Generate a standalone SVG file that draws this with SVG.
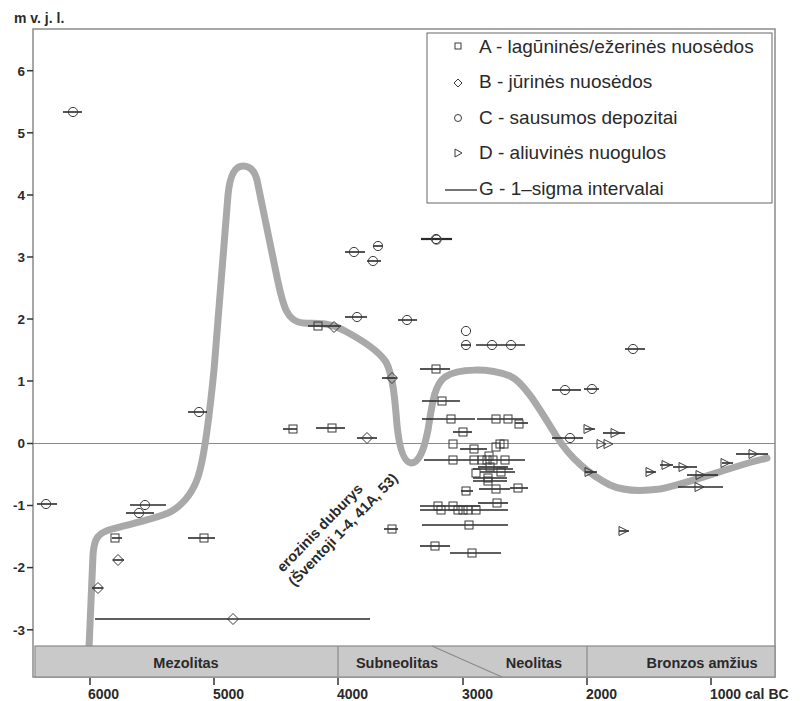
<svg xmlns="http://www.w3.org/2000/svg" xmlns:xlink="http://www.w3.org/1999/xlink" width="806" height="701" viewBox="0 0 806 701">
<style>
.frame{fill:#fff;stroke:#8a8a8a;stroke-width:1.5}
.zero{stroke:#8a8a8a;stroke-width:1.2}
.curve{fill:none;stroke:#a9a9a9;stroke-width:7;stroke-linecap:round;stroke-linejoin:round}
.bar{stroke:#2a2a2a;stroke-width:1.6}
.m{fill:none;stroke:#3a3a3a;stroke-width:1}
.band{fill:#c9c9c9;stroke:#8a8a8a;stroke-width:1.2}
.div{stroke:#8a8a8a;stroke-width:1.2}
.tick{stroke:#333;stroke-width:1.5}
.ax{font-family:"Liberation Sans",Arial,sans-serif;font-weight:bold;font-size:14px;fill:#2a2a2a}
.yl{font-family:"Liberation Sans",Arial,sans-serif;font-weight:bold;font-size:13.5px;fill:#2a2a2a;text-anchor:end}
.bt{font-family:"Liberation Sans",Arial,sans-serif;font-weight:bold;font-size:14.5px;fill:#2a2a2a;text-anchor:middle}
.lg{font-family:"Liberation Sans",Arial,sans-serif;font-size:19px;fill:#2a2a2a}
.rot{font-family:"Liberation Sans",Arial,sans-serif;font-weight:bold;font-size:14.5px;fill:#2a2a2a}
</style>
<defs>
<rect id="sq" x="-4" y="-4" width="8" height="8"/>
<circle id="ci" r="4.6"/>
<path id="di" d="M0,-5.5 L5.5,0 L0,5.5 L-5.5,0Z"/>
<path id="tr" d="M-4,-4.5 L5,0 L-4,4.5Z"/>
</defs>
<rect width="806" height="701" fill="#fff"/>
<g id="plot-frame">
<rect class="frame" x="33" y="29" width="742" height="648"/>
<line class="zero" x1="33" y1="443.5" x2="775" y2="443.5"/>
</g>
<g id="sea-level-curve">
<path class="curve" d="M89 648 L93 555 C94 538,98 533,112 529 C130 524,160 518,172 511 C185 503,195 490,200 470 C206 447,210 410,214 370 L228 195 C230 174,235 166,243 166 C251 166,256 172,258 185 L278 282 C283 305,287 322,303 323 C318 324,330 322,345 331 C360 339,378 350,386 362 C393 375,395 400,397 425 C399 445,403 462,411 463 C419 463,424 450,428 430 C432 405,434 385,445 377 C458 368,490 368,510 376 C525 383,540 410,557 437 C570 458,590 475,610 485 C625 492,645 491,660 489 C690 483,730 467,767 458"/>
</g>
<g id="connectors">
<!-- circles -->
<line class="bar" x1="63" y1="112" x2="82" y2="112"/>
<line class="bar" x1="37" y1="504" x2="57" y2="504"/>
<line class="bar" x1="130" y1="505" x2="166" y2="505"/>
<line class="bar" x1="126" y1="513" x2="154" y2="513"/>
<line class="bar" x1="188" y1="412" x2="207" y2="412"/>
<line class="bar" x1="345" y1="252" x2="365" y2="252"/>
<line class="bar" x1="374" y1="246" x2="382" y2="246"/>
<line class="bar" x1="367" y1="261" x2="381" y2="261"/>
<line class="bar" x1="421" y1="239" x2="452" y2="239" style="stroke-width:2.2"/>
<line class="bar" x1="345" y1="317" x2="367" y2="317"/>
<line class="bar" x1="398" y1="320" x2="417" y2="320"/>
<line class="bar" x1="461" y1="345" x2="471" y2="345"/>
<line class="bar" x1="476" y1="345" x2="525" y2="345"/>
<line class="bar" x1="625" y1="349" x2="645" y2="349"/>
<line class="bar" x1="552" y1="390" x2="581" y2="390"/>
<line class="bar" x1="584" y1="389" x2="599" y2="389"/>
<line class="bar" x1="552" y1="438" x2="583" y2="438"/>
<!-- squares -->
<line class="bar" x1="112" y1="538" x2="122" y2="538"/>
<line class="bar" x1="188" y1="538" x2="215" y2="538"/>
<line class="bar" x1="283" y1="429" x2="297" y2="429"/>
<line class="bar" x1="316" y1="428" x2="345" y2="428"/>
<line class="bar" x1="308" y1="326" x2="341" y2="326"/>
<line class="bar" x1="420" y1="369" x2="450" y2="369"/>
<line class="bar" x1="422" y1="401" x2="460" y2="401"/>
<line class="bar" x1="422" y1="419" x2="475" y2="419"/>
<line class="bar" x1="477" y1="419" x2="523" y2="419"/>
<line class="bar" x1="515" y1="423" x2="528" y2="423"/>
<line class="bar" x1="453" y1="432" x2="472" y2="432"/>
<line class="bar" x1="460" y1="449" x2="487" y2="449"/>
<line class="bar" x1="424" y1="460" x2="525" y2="460"/>
<line class="bar" x1="478" y1="467" x2="508" y2="467"/>
<line class="bar" x1="473" y1="469" x2="513" y2="469"/>
<line class="bar" x1="480" y1="472" x2="515" y2="472"/>
<line class="bar" x1="473" y1="478" x2="507" y2="478"/>
<line class="bar" x1="473" y1="481" x2="507" y2="481"/>
<line class="bar" x1="461" y1="491" x2="473" y2="491"/>
<line class="bar" x1="479" y1="489" x2="510" y2="489"/>
<line class="bar" x1="510" y1="488" x2="528" y2="488"/>
<line class="bar" x1="478" y1="503" x2="508" y2="503"/>
<line class="bar" x1="420" y1="506" x2="480" y2="506"/>
<line class="bar" x1="420" y1="510" x2="508" y2="510"/>
<line class="bar" x1="422" y1="525" x2="508" y2="525"/>
<line class="bar" x1="420" y1="546" x2="450" y2="546"/>
<line class="bar" x1="450" y1="553" x2="501" y2="553"/>
<line class="bar" x1="384" y1="529" x2="398" y2="529"/>
<!-- diamonds -->
<line class="bar" x1="382" y1="378" x2="397" y2="378"/>
<line class="bar" x1="357" y1="438" x2="377" y2="438"/>
<line class="bar" x1="113" y1="560" x2="124" y2="560"/>
<line class="bar" x1="92" y1="588" x2="103" y2="588"/>
<line class="bar" x1="95" y1="619" x2="370" y2="619"/>
<!-- triangles -->
<line class="bar" x1="585" y1="429" x2="595" y2="429"/>
<line class="bar" x1="603" y1="433" x2="625" y2="433"/>
<line class="bar" x1="585" y1="472" x2="597" y2="472"/>
<line class="bar" x1="646" y1="472" x2="656" y2="472"/>
<line class="bar" x1="660" y1="465" x2="673" y2="465"/>
<line class="bar" x1="673" y1="467" x2="697" y2="467"/>
<line class="bar" x1="687" y1="475" x2="718" y2="475"/>
<line class="bar" x1="678" y1="487" x2="723" y2="487"/>
<line class="bar" x1="722" y1="463" x2="733" y2="463"/>
<line class="bar" x1="736" y1="454" x2="768" y2="454"/>
<line class="bar" x1="619" y1="531" x2="629" y2="531"/>
</g>
<g id="C-points" class="m">
<use href="#ci" x="73" y="112"/><use href="#ci" x="46" y="504"/><use href="#ci" x="145" y="505"/><use href="#ci" x="139" y="513"/>
<use href="#ci" x="199" y="412"/><use href="#ci" x="354" y="252"/><use href="#ci" x="378" y="246"/><use href="#ci" x="373" y="261"/>
<use href="#ci" x="436" y="239"/><use href="#ci" x="436.6" y="239.6"/><use href="#ci" x="357" y="317"/><use href="#ci" x="407" y="320"/>
<use href="#ci" x="466" y="331"/><use href="#ci" x="466" y="345"/><use href="#ci" x="492" y="345"/><use href="#ci" x="511" y="345"/>
<use href="#ci" x="633" y="349"/><use href="#ci" x="565" y="390"/><use href="#ci" x="592" y="389"/><use href="#ci" x="570" y="438"/>
</g>
<g id="A-points" class="m">
<use href="#sq" x="115" y="538"/><use href="#sq" x="204" y="538"/><use href="#sq" x="293" y="429"/><use href="#sq" x="332" y="428"/>
<use href="#sq" x="318" y="326"/><use href="#sq" x="436" y="369"/><use href="#sq" x="442" y="401"/><use href="#sq" x="451" y="419"/>
<use href="#sq" x="496" y="419"/><use href="#sq" x="508" y="419"/><use href="#sq" x="519" y="424"/><use href="#sq" x="463" y="432"/>
<use href="#sq" x="453" y="444"/><use href="#sq" x="474" y="449"/><use href="#sq" x="496" y="447"/><use href="#sq" x="500" y="444"/><use href="#sq" x="504" y="444"/>
<use href="#sq" x="453" y="460"/><use href="#sq" x="474" y="460"/><use href="#sq" x="482" y="460"/><use href="#sq" x="487" y="460"/><use href="#sq" x="493" y="460"/><use href="#sq" x="505" y="460"/><use href="#sq" x="489" y="456"/>
<use href="#sq" x="476" y="473"/><use href="#sq" x="490" y="467"/><use href="#sq" x="501" y="472"/><use href="#sq" x="488" y="478"/><use href="#sq" x="488" y="481"/>
<use href="#sq" x="466" y="491"/><use href="#sq" x="496" y="489"/><use href="#sq" x="518" y="488"/><use href="#sq" x="497" y="503"/>
<use href="#sq" x="438" y="506"/><use href="#sq" x="453" y="506"/><use href="#sq" x="441" y="510"/><use href="#sq" x="458" y="510"/><use href="#sq" x="463" y="510"/><use href="#sq" x="468" y="510"/><use href="#sq" x="476" y="510"/>
<use href="#sq" x="469" y="525"/><use href="#sq" x="435" y="546"/><use href="#sq" x="472" y="553"/><use href="#sq" x="392" y="529"/>
</g>
<g id="B-points" class="m">
<use href="#di" x="334" y="327"/><use href="#di" x="392" y="378"/><use href="#di" x="367" y="438"/><use href="#di" x="118" y="560"/>
<use href="#di" x="98" y="588"/><use href="#di" x="233" y="619"/>
</g>
<g id="D-points" class="m">
<use href="#tr" x="588" y="429"/><use href="#tr" x="615" y="433"/><use href="#tr" x="601" y="444"/><use href="#tr" x="608" y="444"/>
<use href="#tr" x="589" y="472"/><use href="#tr" x="650" y="472"/><use href="#tr" x="666" y="465"/><use href="#tr" x="683" y="467"/>
<use href="#tr" x="700" y="475"/><use href="#tr" x="699" y="487"/><use href="#tr" x="725" y="463"/><use href="#tr" x="753" y="454"/><use href="#tr" x="623" y="531"/>
</g>
<g id="period-band">
<rect class="band" x="35" y="646" width="740" height="31"/>
<line class="div" x1="338" y1="646" x2="338" y2="677"/>
<line class="div" x1="587" y1="646" x2="587" y2="677"/>
<line class="div" x1="432" y1="646" x2="502" y2="677"/>
<text class="bt" x="186" y="668">Mezolitas</text>
<text class="bt" x="397" y="668">Subneolitas</text>
<text class="bt" x="534" y="668">Neolitas</text>
<text class="bt" x="702" y="668">Bronzos amžius</text>
</g>
<g id="x-axis">
<line class="tick" x1="90" y1="678" x2="90" y2="685"/>
<line class="tick" x1="214" y1="678" x2="214" y2="685"/>
<line class="tick" x1="338" y1="678" x2="338" y2="685"/>
<line class="tick" x1="463" y1="678" x2="463" y2="685"/>
<line class="tick" x1="587" y1="678" x2="587" y2="685"/>
<line class="tick" x1="711" y1="678" x2="711" y2="685"/>
<text class="ax" x="88" y="699">6000</text>
<text class="ax" x="213" y="699">5000</text>
<text class="ax" x="337" y="699">4000</text>
<text class="ax" x="462" y="699">3000</text>
<text class="ax" x="586" y="699">2000</text>
<text class="ax" x="710" y="699">1000 cal BC</text>
</g>
<g id="y-axis">
<text class="ax" x="14" y="23">m v. j. l.</text>
<g class="tick">
<line x1="27" y1="70.7" x2="33" y2="70.7"/><line x1="27" y1="132.8" x2="33" y2="132.8"/><line x1="27" y1="195" x2="33" y2="195"/>
<line x1="27" y1="257" x2="33" y2="257"/><line x1="27" y1="319" x2="33" y2="319"/><line x1="27" y1="381" x2="33" y2="381"/>
<line x1="27" y1="443.5" x2="33" y2="443.5"/><line x1="27" y1="505.5" x2="33" y2="505.5"/><line x1="27" y1="567.6" x2="33" y2="567.6"/>
<line x1="27" y1="629.8" x2="33" y2="629.8"/>
</g>
<text class="yl" x="25" y="75.5">6</text>
<text class="yl" x="25" y="137.6">5</text>
<text class="yl" x="25" y="199.8">4</text>
<text class="yl" x="25" y="261.8">3</text>
<text class="yl" x="25" y="323.8">2</text>
<text class="yl" x="25" y="385.8">1</text>
<text class="yl" x="25" y="448.3">0</text>
<text class="yl" x="25" y="510.3">-1</text>
<text class="yl" x="25" y="572.4">-2</text>
<text class="yl" x="25" y="634.6">-3</text>
</g>
<g id="annotation">
<text class="rot" transform="translate(283,573) rotate(-46)"><tspan x="0" y="0">erozinis duburys</tspan><tspan x="-2" y="18">(Šventoji 1-4, 41A, 53)</tspan></text>
</g>
<g id="legend">
<rect x="427" y="33" width="345" height="170" fill="#fff" stroke="#666" stroke-width="1"/>
<rect x="455" y="43" width="6" height="6" class="m"/>
<path class="m" d="M458,79 L462,83 L458,87 L454,83Z"/>
<circle class="m" cx="458" cy="118" r="3.5"/>
<path class="m" d="M455,149 L462,153 L455,157Z"/>
<line x1="445" y1="190" x2="477" y2="190" stroke="#2a2a2a" stroke-width="1.3"/>
<text class="lg" x="479" y="52.5">A - lagūninės/ežerinės nuosėdos</text>
<text class="lg" x="479" y="88">B - jūrinės nuosėdos</text>
<text class="lg" x="479" y="123.5">C - sausumos depozitai</text>
<text class="lg" x="479" y="159">D - aliuvinės nuogulos</text>
<text class="lg" x="479" y="194.5">G - 1–sigma intervalai</text>
</g>
</svg>
